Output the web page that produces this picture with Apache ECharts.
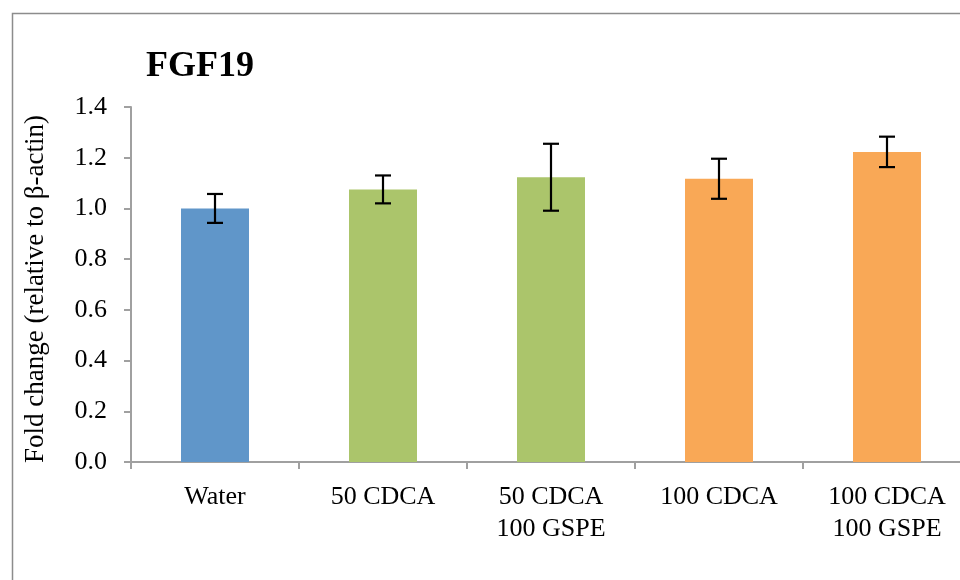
<!DOCTYPE html>
<html>
<head>
<meta charset="utf-8">
<script src="https://cdn.jsdelivr.net/npm/echarts@6/dist/echarts.min.js"></script>
<style>
  html, body { margin: 0; padding: 0; background: #fff; }
  #chart { width: 960px; height: 580px; }
</style>
</head>
<body>
<div id="chart"></div>
<script>
// FGF19 expression per treatment group
const categories = ['Water', '50 CDCA', '50 CDCA\n100 GSPE', '100 CDCA', '100 CDCA\n100 GSPE'];
const foldChange = [1.0, 1.075, 1.123, 1.117, 1.223];
const errorSize = [0.057, 0.055, 0.132, 0.079, 0.06];
const barColors = ['#6096c9', '#abc56b', '#abc56b', '#f9a856', '#f9a856'];
const yTicks = { min: 0, max: 1.4, interval: 0.2 };

const FONT = '"Liberation Serif", "Times New Roman", serif';
const AXIS_GRAY = '#a0a0a0';

const chart = echarts.init(document.getElementById('chart'));

chart.setOption({
  backgroundColor: '#ffffff',
  animation: false,
  graphic: [{
    type: 'rect',
    left: 10, top: 11,
    shape: { width: 1000, height: 1000 },
    style: { fill: 'none', stroke: '#8c8c8c', lineWidth: 1.5 },
    z: -1
  }],
  title: {
    text: 'FGF19',
    left: 141, top: 44,
    textStyle: { fontFamily: FONT, fontWeight: 'bold', fontSize: 36, color: '#000' }
  },
  grid: {
    left: 131, top: 107, width: 840, height: 355,
    containLabel: false, outerBoundsMode: 'none'
  },
  xAxis: {
    type: 'category',
    data: categories,
    axisLine: { lineStyle: { color: AXIS_GRAY, width: 2 } },
    axisTick: { show: true, length: 7, lineStyle: { color: AXIS_GRAY, width: 2 } },
    axisLabel: {
      fontFamily: FONT, fontSize: 26, color: '#000', margin: 19,
      lineHeight: 32, interval: 0
    }
  },
  yAxis: {
    type: 'value',
    min: yTicks.min, max: yTicks.max, interval: yTicks.interval,
    name: 'Fold change (relative to \u03B2-actin)',
    nameLocation: 'middle',
    nameRotate: 90,
    nameGap: 82,
    nameTextStyle: { fontFamily: FONT, fontSize: 27, color: '#000', padding: [0, 9, 0, 0] },
    splitLine: { show: false },
    axisLine: { show: true, lineStyle: { color: AXIS_GRAY, width: 2 } },
    axisTick: { show: true, length: 7, lineStyle: { color: AXIS_GRAY, width: 2 } },
    axisLabel: {
      fontFamily: FONT, fontSize: 26, color: '#000', margin: 24,
      formatter: v => v.toFixed(1)
    }
  },
  series: [
    {
      type: 'bar',
      barWidth: 68,
      data: foldChange.map((v, i) => ({ value: v, itemStyle: { color: barColors[i] } })),
      z: 2
    },
    {
      type: 'custom',
      z: 3,
      data: foldChange.map((v, i) => [i, v - errorSize[i], v + errorSize[i]]),
      renderItem: (params, api) => {
        const lo = api.coord([api.value(0), api.value(1)]);
        const hi = api.coord([api.value(0), api.value(2)]);
        const x = lo[0];
        const cap = 8;
        const style = { stroke: '#000', lineWidth: 2.2 };
        return {
          type: 'group',
          children: [
            { type: 'line', shape: { x1: x, y1: hi[1], x2: x, y2: lo[1] }, style },
            { type: 'line', shape: { x1: x - cap, y1: hi[1], x2: x + cap, y2: hi[1] }, style },
            { type: 'line', shape: { x1: x - cap, y1: lo[1], x2: x + cap, y2: lo[1] }, style }
          ]
        };
      }
    }
  ]
});
</script>
</body>
</html>
